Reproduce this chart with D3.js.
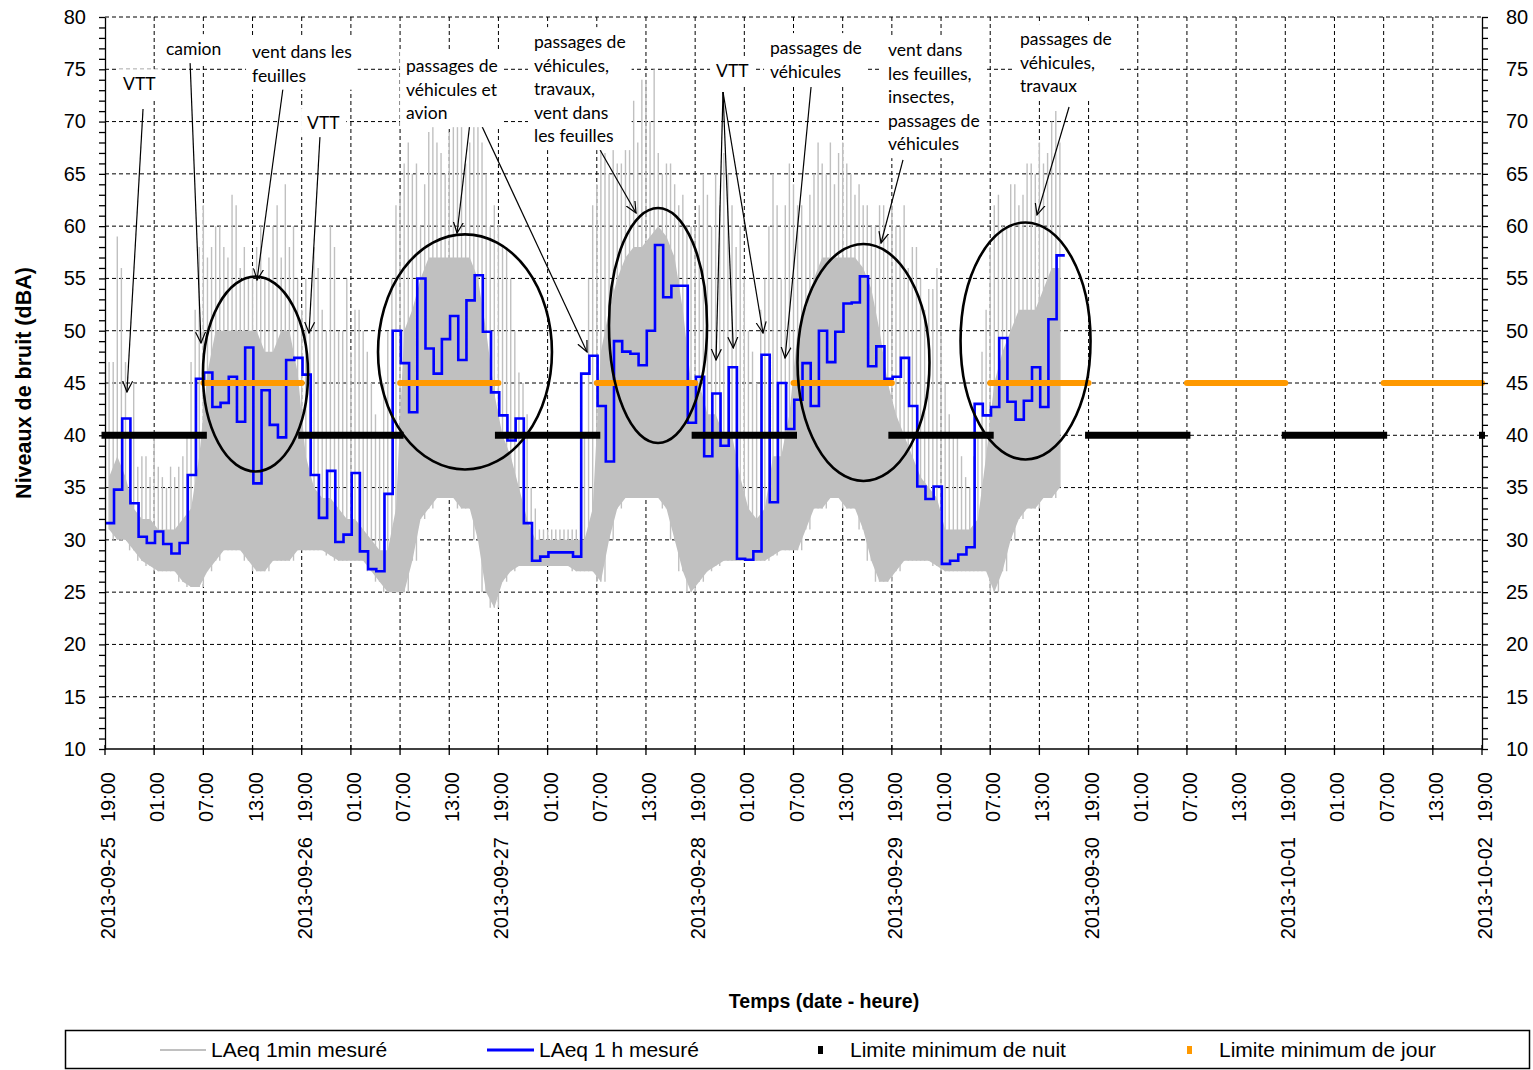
<!DOCTYPE html>
<html>
<head>
<meta charset="utf-8">
<script src="https://d3js.org/d3.v7.min.js"></script>
<style>
  body { margin: 0; background: #fff; }
  svg { display: block; }
  .lbl { font-family: "Liberation Sans", Arial, sans-serif; font-size: 20px; fill: #000; }
  .leg { font-family: "Liberation Sans", Arial, sans-serif; font-size: 21px; fill: #000; }
  .title { font-family: "Liberation Sans", Arial, sans-serif; font-weight: bold; fill: #000; }
  .note { font-family: Lato, "Open Sans", sans-serif; font-size: 17.5px; fill: #000; }
</style>
</head>
<body>
<svg id="chart"></svg>
<script>
let svgWidth = 1533, svgHeight = 1070

// hourly LAeq 1 h (dBA), first step starts at 2013-09-25 19:06
const blueOffset = 0.1
const laeqHour = [31.6, 34.8, 41.6, 33.5, 30.3, 29.7, 30.8, 29.6, 28.7, 29.7,
  36.2, 45.4, 46.0, 42.7, 43.1, 45.6, 41.3, 48.4, 35.4, 44.3,
  41.0, 39.8, 47.2, 47.4, 45.8, 36.2, 32.1, 36.6, 29.8, 30.5,
  36.4, 28.9, 27.2, 27.0, 34.4, 50.0, 46.9, 42.2, 55.0, 48.3,
  45.9, 49.2, 51.4, 47.2, 52.9, 55.3, 49.9, 44.1, 41.9, 39.5,
  41.6, 31.6, 28.0, 28.4, 28.8, 28.8, 28.8, 28.4, 45.9, 47.6,
  42.8, 37.5, 49.0, 48.0, 47.8, 46.7, 50.0, 58.2, 53.2, 54.3,
  54.3, 41.2, 45.6, 38.0, 44.0, 39.0, 46.5, 28.2, 28.1, 28.9,
  47.7, 33.6, 45.0, 40.6, 43.4, 46.9, 42.8, 50.0, 47.0, 49.9,
  52.6, 52.7, 55.2, 46.6, 48.5, 45.4, 45.6, 47.4, 42.8, 35.1,
  33.9, 35.1, 27.7, 28.0, 28.6, 29.3, 43.0, 41.9, 42.7, 49.3,
  43.2, 41.5, 43.3, 46.5, 42.7, 51.1, 57.2]

// LAeq 1min, summarised per hour: floor, dense top, two highest spikes
const minLow = [31, 30, 30, 29, 28, 27.5, 27, 27, 27, 26, 25.5, 25.5,
  27, 28, 29, 29, 29, 28, 27, 27, 28, 28, 28, 29,
  29, 29, 29, 28.5, 28, 28, 28, 28, 27, 26, 25, 25,
  25, 28, 32, 33, 34, 34, 34, 33, 33, 30, 25, 23.5,
  26, 27, 27.5, 27.5, 27.5, 27.5, 27.5, 27.5, 27.5, 27, 27, 27,
  26, 30, 33, 34, 34, 34, 34, 34, 33, 30, 27, 25,
  26, 27, 27.5, 28, 28, 28, 28, 28, 28, 28.5, 29, 29,
  29, 31, 33, 33, 34, 34, 33, 33, 31, 28, 26, 26,
  27, 28, 28, 28, 28, 27.5, 27, 27, 27, 27, 27, 27,
  25, 27, 30, 32, 33, 33, 34, 34, 35]
const minTop = [36, 38, 36, 33, 32, 32, 31, 31, 31, 32, 33, 38,
  46, 50, 50, 50, 50, 50, 50, 48, 48, 50, 50, 46,
  38, 35, 34, 34, 33, 32, 32, 31, 30, 29, 29, 33,
  50, 52, 55, 57, 57, 57, 57, 57, 57, 55, 50, 44,
  40, 38, 35, 32, 30, 30, 30, 30, 30, 30, 30, 33,
  48, 52, 55, 57, 58, 58, 59, 60, 59, 57, 52, 45,
  45, 42, 42, 40, 40, 36, 33, 32, 33, 38, 38, 42,
  50, 52, 55, 57, 57, 57, 57, 57, 56, 54, 50, 45,
  42, 40, 38, 36, 35, 34, 31, 31, 31, 31, 32, 38,
  45, 48, 50, 52, 52, 52, 54, 56, 56]
const minPeak = [47, 59, 47, 45, 38, 36, 37, 35, 36, 38, 47, 58,
  57, 60, 58, 63, 56, 55, 58, 55, 60, 57, 58, 55,
  55, 58, 52, 60, 50, 55, 52, 50, 45, 40, 50, 62,
  66, 65, 60, 69, 68, 65, 72, 71, 68, 70, 65, 62,
  58, 55, 46, 42, 33, 31, 31, 31, 31, 31, 40, 62,
  68, 65, 66, 70, 72, 74, 70, 67, 66, 64, 63, 60,
  62, 63, 65, 67, 62, 60, 50, 45, 55, 65, 55, 66,
  62, 60, 65, 66, 68, 67, 66, 63, 62, 60, 62, 59,
  60, 62, 58, 55, 54, 56, 45, 40, 38, 35, 40, 52,
  62, 60, 64, 62, 66, 65, 66, 70, 68]
const minPeak2 = [45, 47, 56, 40, 37, 38, 40, 36, 37, 37, 40, 52,
  62, 58, 60, 57, 62, 58, 56, 60, 57, 62, 64, 60,
  52, 50, 56, 50, 58, 50, 48, 52, 48, 42, 45, 55,
  63, 68, 66, 64, 70, 67, 69, 72, 66, 70, 68, 60,
  60, 58, 50, 45, 35, 31, 31, 31, 31, 31, 35, 55,
  64, 67, 68, 66, 70, 68, 74, 75, 65, 66, 62, 60,
  60, 65, 60, 62, 65, 58, 55, 48, 52, 60, 62, 62,
  64, 62, 63, 68, 65, 64, 68, 65, 64, 62, 60, 62,
  62, 60, 56, 58, 52, 54, 50, 42, 40, 36, 38, 48,
  58, 63, 60, 64, 63, 66, 68, 67, 71]

// limits (dBA) and their periods, in hours from 2013-09-25 19:00
const nightLimit = 40, dayLimit = 45
const nightStarts = [0, 24, 48, 72, 96, 120, 144]
const dayStarts = [12, 36, 60, 84, 108, 132, 156]
const periodLength = 12

// annotations: ellipses [hour, dBA, rx hours, ry dBA]
const ellipses = [[18.36, 45.86, 6.41, 9.32], [43.92, 47.97, 10.61, 11.24],
  [67.47, 50.5, 5.98, 11.24], [92.54, 46.96, 8.05, 11.33], [112.31, 49.02, 7.93, 11.33]]
// arrows [from hour, from dBA, to hour, to dBA]
const arrows = [[4.64, 71.20, 2.68, 44.14], [10.37, 75.89, 11.71, 48.83],
  [21.72, 73.21, 18.55, 54.85], [26.23, 68.62, 24.89, 49.78],
  [44.78, 71.59, 42.95, 59.34], [44.78, 71.59, 58.81, 47.96],
  [60.40, 67.28, 64.79, 61.26],
  [75.40, 72.83, 74.55, 47.20], [75.40, 72.83, 76.65, 48.35], [75.40, 72.83, 80.28, 49.78],
  [86.14, 73.31, 82.97, 47.39], [97.36, 66.33, 94.68, 58.39], [117.62, 71.39, 113.71, 61.07]]
// labels [hour, dBA of first line, lines]
const notes = [[2.20, 73.59, ['VTT']], [7.44, 76.94, ['camion']],
  [17.94, 76.65, ['vent dans les', 'feuilles']], [24.65, 69.86, ['VTT']],
  [36.73, 75.31, ['passages de', 'véhicules et', 'avion']],
  [52.34, 77.61, ['passages de', 'véhicules,', 'travaux,', 'vent dans', 'les feuilles']],
  [74.55, 74.84, ['VTT']], [81.14, 77.04, ['passages de', 'véhicules']],
  [95.53, 76.84, ['vent dans', 'les feuilles,', 'insectes,', 'passages de', 'véhicules']],
  [111.64, 77.90, ['passages de', 'véhicules,', 'travaux']]]

const legendItems = ['LAeq 1min mesuré', 'LAeq 1 h mesuré', 'Limite minimum de nuit', 'Limite minimum de jour']

const t0 = Date.UTC(2013, 8, 25, 19)
const T = h => new Date(t0 + h * 3600e3)
const fmtDate = d3.utcFormat('%Y-%m-%d'), fmtTime = d3.utcFormat('%H:%M')

let svg = d3.select('#chart').attr('width', svgWidth).attr('height', svgHeight)
svg.append('rect').attr('width', svgWidth).attr('height', svgHeight).attr('fill', '#fff')

let x = d3.scaleUtc().domain([T(0), T(168)]).range([105, 1482])
let y = d3.scaleLinear().domain([10, 80]).range([749, 17])

// grid
let grid = svg.append('g').attr('stroke', '#000').attr('stroke-width', 1).attr('stroke-dasharray', '4,3')
grid.selectAll('.h').data(d3.range(15, 81, 5)).enter().append('line')
  .attr('x1', 105).attr('x2', 1482).attr('y1', d => y(d)).attr('y2', d => y(d))
grid.selectAll('.v').data(d3.range(6, 168, 6)).enter().append('line')
  .attr('x1', d => x(T(d))).attr('x2', d => x(T(d))).attr('y1', 17).attr('y2', 749)

// LAeq 1min
let hours = d3.range(minLow.length)
let gGray = svg.append('g')
gGray.append('path').datum(hours)
  .attr('d', d3.area().x(i => x(T(i + 0.5))).y0(i => y(minLow[i])).y1(i => y(minTop[i])))
  .attr('fill', '#c0c0c0')
gGray.selectAll('.s1').data(hours).enter().append('line')
  .attr('x1', i => x(T(i + 0.5))).attr('x2', i => x(T(i + 0.5)))
  .attr('y1', i => y(minLow[i])).attr('y2', i => y(minPeak[i]))
  .attr('stroke', '#c0c0c0').attr('stroke-width', 1.4)
gGray.selectAll('.s2').data(hours.slice(1)).enter().append('line')
  .attr('x1', i => x(T(i))).attr('x2', i => x(T(i)))
  .attr('y1', i => y(Math.min(minLow[i], minLow[i - 1]))).attr('y2', i => y(minPeak2[i]))
  .attr('stroke', '#c0c0c0').attr('stroke-width', 1.4)

// LAeq 1 h
let bluePts = laeqHour.map((v, i) => [T(i + blueOffset), v])
bluePts.push([T(laeqHour.length + blueOffset), laeqHour[laeqHour.length - 1]])
svg.append('path').datum(bluePts)
  .attr('d', d3.line().curve(d3.curveStepAfter).x(d => x(d[0])).y(d => y(d[1])))
  .attr('fill', 'none').attr('stroke', '#0000ff').attr('stroke-width', 2.6)

// limits
svg.selectAll('.night').data(nightStarts).enter().append('line')
  .attr('x1', d => x(T(d))).attr('x2', d => x(T(d + periodLength)))
  .attr('y1', y(nightLimit)).attr('y2', y(nightLimit))
  .attr('stroke', '#000').attr('stroke-width', 7).attr('stroke-linecap', 'square')
svg.append('rect').attr('x', x(T(168)) - 3).attr('y', y(nightLimit) - 3.5)
  .attr('width', 6).attr('height', 7).attr('fill', '#000')
svg.selectAll('.day').data(dayStarts).enter().append('line')
  .attr('x1', d => x(T(d))).attr('x2', d => x(T(d + periodLength)))
  .attr('y1', y(dayLimit)).attr('y2', y(dayLimit))
  .attr('stroke', '#ff9900').attr('stroke-width', 6).attr('stroke-linecap', 'round')

// axes
let axL = svg.append('g').attr('transform', 'translate(105,0)')
  .call(d3.axisLeft(y).tickValues(d3.range(10, 81)).tickSize(6).tickSizeOuter(0).tickPadding(13)
    .tickFormat(d => d % 5 ? '' : d))
let axR = svg.append('g').attr('transform', 'translate(1482,0)')
  .call(d3.axisRight(y).tickValues(d3.range(10, 81)).tickSize(6).tickSizeOuter(0).tickPadding(18)
    .tickFormat(d => d % 5 ? '' : d))
;[axL, axR].forEach(a => {
  a.selectAll('text').attr('class', 'lbl').attr('font-size', null).attr('font-family', null)
  a.selectAll('line, path').attr('stroke', '#000').attr('stroke-width', 1.3)
})
svg.append('line').attr('x1', 105).attr('x2', 1482).attr('y1', 749).attr('y2', 749)
  .attr('stroke', '#000').attr('stroke-width', 1.3)

let xTicks = d3.range(0, 169, 6)
svg.selectAll('.xt').data(xTicks).enter().append('line')
  .attr('x1', d => x(T(d))).attr('x2', d => x(T(d))).attr('y1', 745).attr('y2', 755)
  .attr('stroke', '#000').attr('stroke-width', 1.3)
let xl = svg.selectAll('.xl').data(xTicks).enter().append('g')
  .attr('transform', d => `translate(${x(T(d)) + 3},0) rotate(-90)`)
xl.append('text').attr('class', 'lbl').attr('x', -772).attr('dy', '0.35em')
  .attr('text-anchor', 'end').text(d => fmtTime(T(d)))
xl.filter(d => d % 24 === 0).append('text').attr('class', 'lbl').attr('x', -837).attr('dy', '0.35em')
  .attr('text-anchor', 'end').text(d => fmtDate(T(d)))

svg.append('text').attr('class', 'title').attr('font-size', 21.5)
  .attr('transform', `translate(31,${(17 + 749) / 2}) rotate(-90)`)
  .attr('text-anchor', 'middle').text('Niveaux de bruit (dBA)')
svg.append('text').attr('class', 'title').attr('font-size', 19.5)
  .attr('x', 824).attr('y', 1008).attr('text-anchor', 'middle').text('Temps (date - heure)')

// annotations
svg.append('defs').append('marker').attr('id', 'arr')
  .attr('viewBox', '0 0 12 12').attr('refX', 11).attr('refY', 6)
  .attr('markerWidth', 12).attr('markerHeight', 12).attr('markerUnits', 'userSpaceOnUse')
  .attr('orient', 'auto')
  .append('path').attr('d', 'M0,1 L11,6 L0,11').attr('fill', 'none').attr('stroke', '#000').attr('stroke-width', 1.2)

svg.selectAll('.ell').data(ellipses).enter().append('ellipse')
  .attr('cx', d => x(T(d[0]))).attr('cy', d => y(d[1]))
  .attr('rx', d => x(T(d[2])) - x(T(0))).attr('ry', d => y(0) - y(d[3]))
  .attr('fill', 'none').attr('stroke', '#000').attr('stroke-width', 2.6)

svg.selectAll('.arw').data(arrows).enter().append('line')
  .attr('x1', d => x(T(d[0]))).attr('y1', d => y(d[1]))
  .attr('x2', d => x(T(d[2]))).attr('y2', d => y(d[3]))
  .attr('stroke', '#000').attr('stroke-width', 1.2).attr('marker-end', 'url(#arr)')

let noteG = svg.selectAll('.ng').data(notes).enter().append('g')
noteG.each(function(d) {
  let g = d3.select(this)
  let tx = g.append('text').attr('class', 'note')
  d[2].forEach((s, k) => {
    tx.append('tspan').attr('x', x(T(d[0]))).attr('y', y(d[1]) + k * 23.5).attr('dy', '0.35em').text(s)
  })
  let b = tx.node().getBBox()
  g.insert('rect', 'text').attr('x', b.x - 6).attr('y', b.y - 4)
    .attr('width', b.width + 12).attr('height', b.height + 8).attr('fill', '#fff')
})

// legend
let lg = svg.append('g')
lg.append('rect').attr('x', 65.5).attr('y', 1030.5).attr('width', 1464).attr('height', 38)
  .attr('fill', '#fff').attr('stroke', '#000').attr('stroke-width', 1.5)
lg.append('line').attr('x1', 160).attr('x2', 206).attr('y1', 1050).attr('y2', 1050)
  .attr('stroke', '#c0c0c0').attr('stroke-width', 2)
lg.append('line').attr('x1', 487).attr('x2', 534).attr('y1', 1050).attr('y2', 1050)
  .attr('stroke', '#0000ff').attr('stroke-width', 3)
lg.append('rect').attr('x', 818).attr('y', 1046).attr('width', 5).attr('height', 8).attr('fill', '#000')
lg.append('rect').attr('x', 1187).attr('y', 1046).attr('width', 5).attr('height', 8).attr('fill', '#ff9900')
lg.selectAll('.lt').data(legendItems).enter().append('text').attr('class', 'leg')
  .attr('x', (d, i) => [211, 539, 850, 1219][i]).attr('y', 1050).attr('dy', '0.35em').text(d => d)
</script>
</body>
</html>
